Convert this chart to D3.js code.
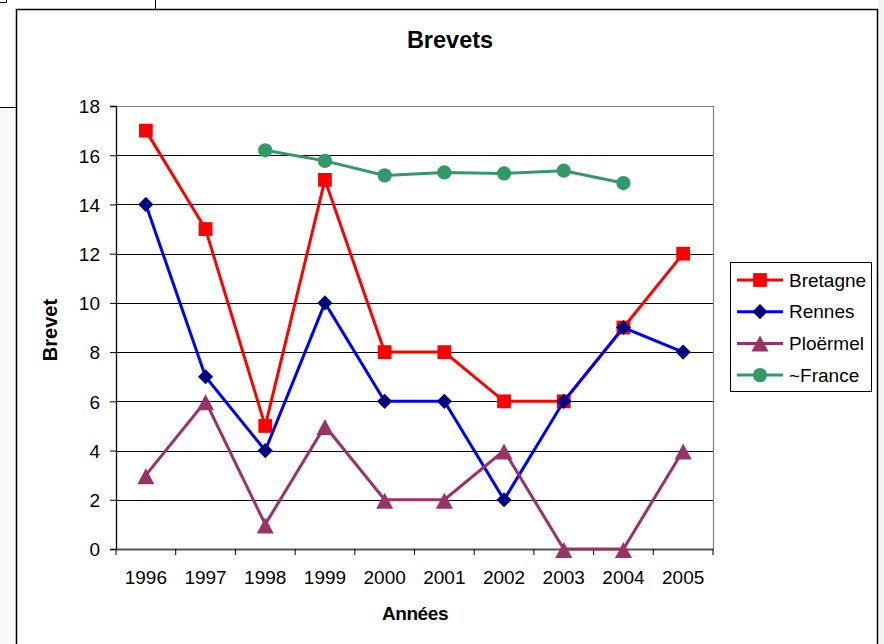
<!DOCTYPE html>
<html><head><meta charset="utf-8">
<script src="https://cdn.jsdelivr.net/npm/d3@7"></script>
<style>body{margin:0;background:#fff}svg{display:block}</style>
</head><body>
<script>
const years = ["1996","1997","1998","1999","2000","2001","2002","2003","2004","2005"];
const bretagne = [17,13,5,15,8,8,6,6,9,12];
const rennes = [14,7,4,10,6,6,2,6,9,8];
const ploermel = [3,6,1,5,2,2,4,0,0,4];
const france = [null,null,16.2,15.77,15.18,15.3,15.26,15.37,14.87,null];
const yTicks = [0,2,4,6,8,10,12,14,16,18];
const seriesNames = ["Bretagne","Rennes","Ploërmel","~France"];

const FONT="Liberation Sans, Arial, sans-serif";
const W=884,H=644;
const svg=d3.select("body").append("svg").attr("width",W).attr("height",H).attr("font-family",FONT);
// outer artifacts and frame
svg.append("rect").attr("x",0).attr("y",107).attr("width",16).attr("height",H-107).attr("fill","#f8f8f8");
svg.append("rect").attr("x",878).attr("y",0).attr("width",6).attr("height",H).attr("fill","#f4f4f4");
svg.append("path").attr("d","M0,2.5H6.5V0 M155.5,0V9 M0,107.5H16").attr("stroke","#000").attr("stroke-width",1).attr("fill","none");
svg.append("rect").attr("x",16.5).attr("y",9.5).attr("width",861).attr("height",H).attr("fill","#fff").attr("stroke","#000").attr("stroke-width",1.5);

const L=116,R=713,T=106,B=549;
const x=d3.scaleBand().domain(years).range([L,R]).padding(0);
const y=d3.scaleLinear().domain([0,18]).range([B,T]);
const cx=d=>x(d)+x.bandwidth()/2;

// gridlines
svg.append("g").selectAll("line").data(yTicks.filter(t=>t>0&&t<18)).join("line")
 .attr("x1",L).attr("x2",R).attr("y1",d=>Math.round(y(d))+0.5).attr("y2",d=>Math.round(y(d))+0.5)
 .attr("stroke","#000").attr("stroke-width",1);
// plot border
svg.append("path").attr("d",`M${L},${T+0.5}H${R+0.5}V${B}`).attr("stroke","#808080").attr("fill","none").attr("stroke-width",1.2);

// axes
const ya=svg.append("g").attr("transform",`translate(${L},0)`).call(d3.axisLeft(y).tickValues(yTicks).tickSize(6).tickPadding(10));
const xa=svg.append("g").attr("transform",`translate(0,${B})`).call(d3.axisBottom(x).tickSize(0).tickPadding(22));
[ya,xa].forEach(a=>{a.attr("font-size",19).attr("font-family",FONT);a.selectAll("text").attr("fill","#000");
 a.select(".domain").attr("stroke","#000").attr("stroke-width",1.3);a.selectAll(".tick line").attr("stroke","#000");});
ya.selectAll("text").attr("dy","0.36em");
xa.select(".domain").attr("stroke","#555").attr("stroke-width",2);
// x tick marks between categories
svg.append("g").selectAll("line").data(d3.range(years.length+1)).join("line")
 .attr("x1",i=>L+i*x.bandwidth()).attr("x2",i=>L+i*x.bandwidth()).attr("y1",B).attr("y2",B+6).attr("stroke","#000").attr("stroke-width",1);

// titles
svg.append("text").attr("x",450).attr("y",48).attr("text-anchor","middle").attr("font-size",23.5).attr("font-weight","bold").text("Brevets");
svg.append("text").attr("x",415).attr("y",620).attr("text-anchor","middle").attr("font-size",19).attr("font-weight","bold").attr("letter-spacing",-0.4).text("Années");
svg.append("text").attr("transform","translate(57,330) rotate(-90)").attr("text-anchor","middle").attr("font-size",20).attr("font-weight","bold").text("Brevet");

const colors={line:["#FF0000","#0000FF","#993366","#339966"],mark:["#FF0000","#000080","#993366","#339966"]};
const tri={draw(ctx){ctx.moveTo(0,-8);ctx.lineTo(8.5,8);ctx.lineTo(-8.5,8);ctx.closePath();}};
const syms=[d3.symbolSquare,d3.symbolSquare,tri,d3.symbolCircle];
const rot=[0,45,0,0];
const sizes=[190,115,0,160];
const data=[bretagne,rennes,ploermel,france];
const line=d3.line().defined(d=>d.v!=null).x(d=>cx(d.k)).y(d=>y(d.v));
data.forEach((s,i)=>{
 const pts=years.map((k,j)=>({k,v:s[j]}));
 svg.append("path").datum(pts).attr("d",line).attr("fill","none").attr("stroke",colors.line[i]).attr("stroke-width",3);
 svg.append("g").selectAll("path").data(pts.filter(p=>p.v!=null)).join("path")
  .attr("transform",p=>`translate(${cx(p.k)},${y(p.v)+(i==2?1:0)}) rotate(${rot[i]})`)
  .attr("d",d3.symbol().type(syms[i]).size(sizes[i])).attr("fill",colors.mark[i]);
});

// legend
const lg=svg.append("g");
lg.append("rect").attr("x",730.5).attr("y",262.5).attr("width",141).attr("height",129).attr("fill","#fff").attr("stroke","#000").attr("stroke-width",1);
seriesNames.forEach((n,i)=>{
 const yy=280+i*31.7;
 lg.append("line").attr("x1",737).attr("x2",783).attr("y1",yy).attr("y2",yy).attr("stroke",colors.line[i]).attr("stroke-width",3);
 lg.append("path").attr("transform",`translate(760,${yy}) rotate(${rot[i]})`).attr("d",d3.symbol().type(syms[i]).size(sizes[i])).attr("fill",colors.mark[i]);
 lg.append("text").attr("x",789).attr("y",yy+6.5).attr("font-size",19).text(n);
});
</script>
</body></html>
